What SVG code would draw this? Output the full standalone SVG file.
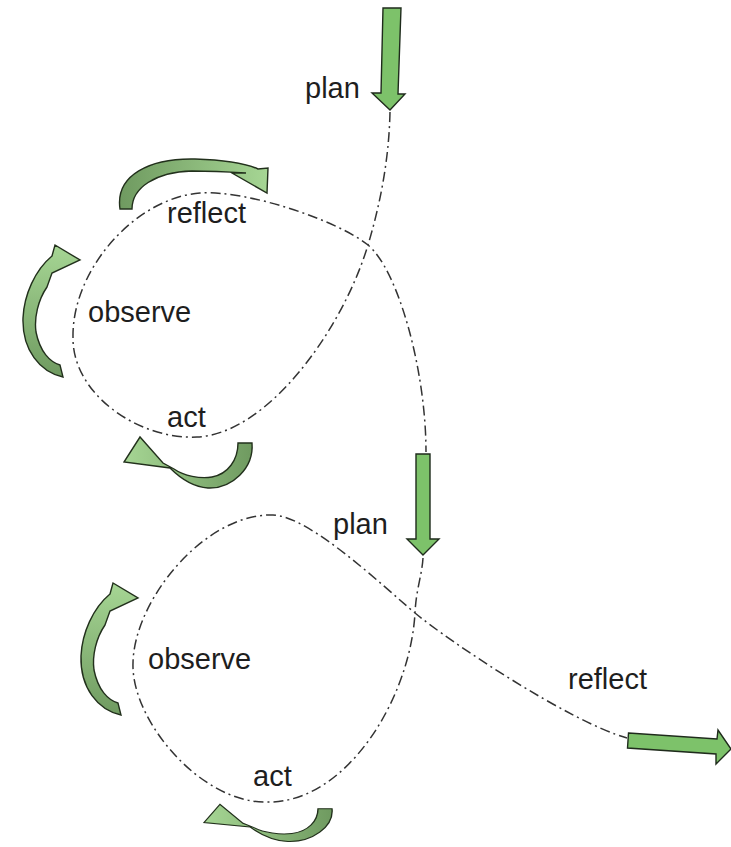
<svg xmlns="http://www.w3.org/2000/svg" width="731" height="847" viewBox="0 0 731 847">
<defs>
<style>
.flow{fill:none;stroke:#333;stroke-width:1.5;stroke-dasharray:10 4 2 4}
.block{fill:#7dc26a;stroke:#1f2b1c;stroke-width:1.4;stroke-linejoin:miter}
.curl{stroke:#22301c;stroke-width:1.4;stroke-linejoin:miter}
.lbl{font-family:"Liberation Sans",Arial,sans-serif;font-size:29px;fill:#1e1e1e}
</style>
<linearGradient id="gLR" x1="0" y1="0" x2="1" y2="0"><stop offset="0" stop-color="#6f9a60"/><stop offset="1" stop-color="#a6d694"/></linearGradient>
<linearGradient id="gBT" x1="0" y1="1" x2="0" y2="0"><stop offset="0" stop-color="#6f9a60"/><stop offset="1" stop-color="#a6d694"/></linearGradient>
<linearGradient id="gRL" x1="1" y1="0" x2="0" y2="0"><stop offset="0" stop-color="#6f9a60"/><stop offset="1" stop-color="#a6d694"/></linearGradient>
<path id="curlSide" d="M 63,377 C 40,372 22,350 23,318 C 24,295 35,270 52,256 L 55,245 L 80,260 L 52,273 L 47,287 C 38,300 34,318 36,332 C 40,352 50,362 60,365 Z"/>
<path id="curlBottom" d="M 252,443 C 254,468 232,489 208,488 C 193,487 180,478 170,468 L 124,462 L 140,437 L 163,463 L 174,469 C 184,476 200,479 212,477 C 228,474 238,460 238,443 Z"/>
</defs>

<g id="connectors">
<path class="flow" d="M 390,112 C 389,160 380,205 368,245 C 342,331 267,434 197,437 C 140,440 72,395 73,337 C 72,270 135,198 200,193 C 250,190 340,222 368,245 C 398,270 426,370 426,452"/>
<path class="flow" d="M 423,558 C 422,575 416,590 415,613 C 410,700 345,805 265,802 C 200,802 131,720 133,663 C 134,600 205,513 273,515 C 310,516 385,588 415,613 C 450,642 570,722 627,738"/>
</g>

<g id="arrow-plan-1">
<polygon class="block" points="383,8 401,8 398,94 405,94 390,110 372,93 381,93"/>
</g>
<g id="arrow-plan-2">
<polygon class="block" points="416,454 430,454 430,539 439,539 423,555 407,539 416,539"/>
</g>
<g id="arrow-reflect-out">
<polygon class="block" points="628.5,733 717,739 718,730 731,749 716,764 716,754 627.5,748"/>
</g>

<g id="curl-reflect-1">
<path class="curl" fill="url(#gLR)" d="M 120,209 C 115,175 150,158 195,159 C 225,160 245,163 258,169 L 268,168 L 267,193 L 232,173 L 246,173 C 230,172 210,171 192,171 C 155,172 132,188 132,209 Z"/>
</g>
<g id="curl-observe-1">
<use href="#curlSide" class="curl" fill="url(#gBT)"/>
</g>
<g id="curl-act-1">
<use href="#curlBottom" class="curl" fill="url(#gRL)"/>
</g>
<g id="curl-observe-2">
<use href="#curlSide" class="curl" fill="url(#gBT)" transform="translate(58,338)"/>
</g>
<g id="curl-act-2">
<use href="#curlBottom" class="curl" fill="url(#gRL)" vector-effect="non-scaling-stroke" transform="translate(80,485.3) scale(1,0.73)"/>
</g>

<g id="label-plan-1"><text class="lbl" x="305" y="98">plan</text></g>
<g id="label-reflect-1"><text class="lbl" x="167" y="223">reflect</text></g>
<g id="label-observe-1"><text class="lbl" x="88" y="322">observe</text></g>
<g id="label-act-1"><text class="lbl" x="167" y="427">act</text></g>
<g id="label-plan-2"><text class="lbl" x="333" y="534">plan</text></g>
<g id="label-observe-2"><text class="lbl" x="148" y="669">observe</text></g>
<g id="label-act-2"><text class="lbl" x="253" y="786">act</text></g>
<g id="label-reflect-2"><text class="lbl" x="568" y="689">reflect</text></g>
</svg>
